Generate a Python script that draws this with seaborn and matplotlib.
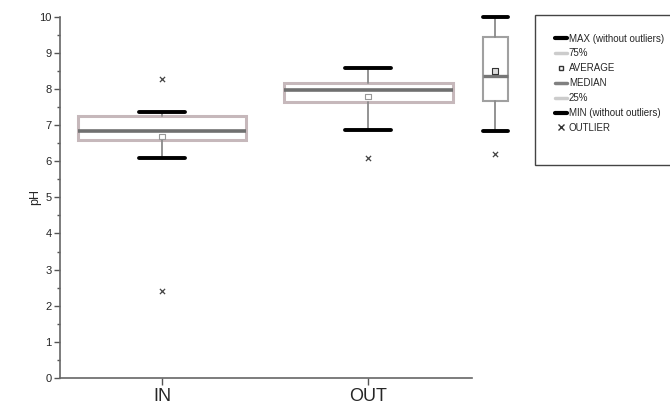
import numpy as np
import seaborn as sns
import matplotlib.pyplot as plt
from matplotlib.lines import Line2D
from matplotlib.patches import Rectangle

# box statistics (pH)
groups = ['IN', 'OUT']
q1 = [6.60, 7.63]
median = [6.85, 7.96]
q3 = [7.24, 8.17]
whis_lo = [6.09, 6.87]
whis_hi = [7.36, 8.57]
means = [6.69, 7.80]
outliers = [[8.29, 2.40], [6.08]]

# the sample box next to the key
key_q1, key_med, key_q3 = 7.68, 8.35, 9.45
key_lo, key_hi, key_mean, key_out = 6.84, 9.98, 8.49, 6.20

sns.set_style('ticks')
plt.rcParams['font.family'] = ['Liberation Sans', 'DejaVu Sans']

fig = plt.figure(figsize=(6.7, 4.05), dpi=100)
ax = fig.add_axes([0.0896, 0.0667, 0.615, 0.892])

stats = []
for i, g in enumerate(groups):
    stats.append({'label': g, 'q1': q1[i], 'med': median[i], 'q3': q3[i],
                  'whislo': whis_lo[i], 'whishi': whis_hi[i], 'fliers': []})

ax.bxp(stats, positions=[0, 1], widths=0.82, capwidths=0.22, showfliers=False,
       patch_artist=True,
       boxprops=dict(facecolor='white', edgecolor='#c6b8bb', linewidth=2.2),
       medianprops=dict(color='#707070', linewidth=2.6),
       whiskerprops=dict(color='#8a8a8a', linewidth=1.3),
       capprops=dict(color='black', linewidth=2.8))

# means and outliers with seaborn
sns.scatterplot(x=[0, 1], y=means, marker='s', s=14, facecolor='none',
                edgecolor='#999999', linewidth=0.8, ax=ax, zorder=5)
ox = [i for i, vals in enumerate(outliers) for _ in vals]
oy = [v for vals in outliers for v in vals]
sns.scatterplot(x=ox, y=oy, marker='x', s=14, color='#444444', linewidth=0.9,
                ax=ax, zorder=5)

# sample box beside the key, outside the axis range
kpos = 1.617
key_art = ax.bxp([{'q1': key_q1, 'med': key_med, 'q3': key_q3, 'whislo': key_lo,
                   'whishi': key_hi, 'fliers': []}],
                 positions=[kpos], widths=0.12, capwidths=0.12, showfliers=False,
                 patch_artist=True, manage_ticks=False,
                 boxprops=dict(facecolor='white', edgecolor='#a0a0a0', linewidth=1.5),
                 medianprops=dict(color='#777777', linewidth=2.4),
                 whiskerprops=dict(color='#8a8a8a', linewidth=1.3),
                 capprops=dict(color='black', linewidth=2.8))
for arts in key_art.values():
    for a in arts:
        a.set_clip_on(False)
m1 = ax.scatter([kpos], [key_mean], marker='s', s=14, facecolor='#dddddd',
                edgecolor='#333333', linewidth=0.8, zorder=6)
m2 = ax.scatter([kpos], [key_out], marker='x', s=14, color='#444444',
                linewidth=0.9, zorder=6)
m1.set_clip_on(False)
m2.set_clip_on(False)

ax.set_xlim(-0.495, 1.505)
ax.set_ylim(0, 10)
ax.set_xticks([0, 1])
ax.set_xticklabels(groups, fontsize=13)
ax.set_yticks(range(0, 11))
ax.set_yticks(np.arange(0.5, 10, 1), minor=True)
ax.tick_params(axis='y', labelsize=8, length=4, width=1, color='#555555', pad=2)
ax.tick_params(axis='y', which='minor', length=2, width=1, color='#555555')
ax.tick_params(axis='x', length=5, width=1, color='#555555', pad=2)
ax.set_ylabel('pH', fontsize=9, labelpad=-1)
ax.set_xlabel('')
sns.despine(ax=ax)
for sp in ['left', 'bottom']:
    ax.spines[sp].set_color('#666666')
    ax.spines[sp].set_linewidth(1.2)

# key box
fig.patches.append(Rectangle((0.7985, 0.593), 0.21, 0.37, transform=fig.transFigure,
                             facecolor='white', edgecolor='#444444', linewidth=1.0))
handles = [
    Line2D([], [], color='black', linewidth=3),
    Line2D([], [], color='#cccccc', linewidth=2.5),
    Line2D([], [], linestyle='none', marker='s', markersize=3.5,
           markerfacecolor='none', markeredgecolor='#333333'),
    Line2D([], [], color='#808080', linewidth=2.5),
    Line2D([], [], color='#cccccc', linewidth=2.5),
    Line2D([], [], color='black', linewidth=3),
    Line2D([], [], linestyle='none', marker='x', markersize=4, color='#333333'),
]
labels = ['MAX (without outliers)', '75%', 'AVERAGE', 'MEDIAN', '25%',
          'MIN (without outliers)', 'OUTLIER']
fig.legend(handles, labels, loc='upper left', bbox_to_anchor=(0.828, 0.917),
           bbox_transform=fig.transFigure, frameon=False, fontsize=7,
           handlelength=1.3, handletextpad=0.15, labelspacing=0.5,
           borderpad=0, borderaxespad=0)

fig.savefig('out.png', dpi=100)
